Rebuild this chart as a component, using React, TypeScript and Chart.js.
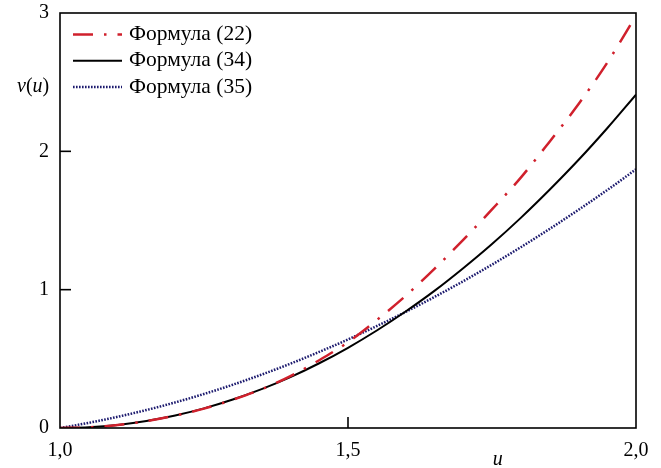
import { useEffect, useRef } from "react";
import { Chart, registerables } from "chart.js";

Chart.register(...registerables);

const uValues = [1.0, 1.05, 1.1, 1.15, 1.2, 1.25, 1.3, 1.35, 1.4, 1.45, 1.5, 1.55, 1.6, 1.65, 1.7, 1.75, 1.8, 1.85, 1.9, 1.95, 2.0];
const formula22 = [0, 0.005, 0.022, 0.05, 0.09, 0.14, 0.205, 0.28, 0.375, 0.49, 0.62, 0.78, 0.955, 1.15, 1.36, 1.58, 1.81, 2.07, 2.34, 2.64, 2.98];
const formula34 = [0, 0.006, 0.0225, 0.051, 0.091, 0.142, 0.206, 0.281, 0.368, 0.468, 0.58, 0.705, 0.842, 0.991, 1.155, 1.33, 1.519, 1.722, 1.937, 2.167, 2.41];
const formula35 = [0, 0.0375, 0.081, 0.13, 0.185, 0.246, 0.313, 0.386, 0.465, 0.55, 0.64, 0.737, 0.839, 0.947, 1.061, 1.181, 1.307, 1.439, 1.577, 1.72, 1.87];

const seriesLabels = ["Формула (22)", "Формула (34)", "Формула (35)"];
const xTickValues = [1.0, 1.5, 2.0];
const xTickLabels = ["1,0", "1,5", "2,0"];
const yTickValues = [0, 1, 2, 3];
const yTickLabels = ["0", "1", "2", "3"];
const xTitle = "u";
const yTitleParts = [
  { t: "v", italic: true },
  { t: "(", italic: false },
  { t: "u", italic: true },
  { t: ")", italic: false },
];

const SERIF = "'Liberation Serif', 'Times New Roman', serif";

const framePlugin = {
  id: "framePlugin",
  afterDraw(chart: any) {
    const { ctx, chartArea } = chart;
    const { left, right, top, bottom } = chartArea;
    ctx.save();
    ctx.strokeStyle = "#000";
    ctx.lineWidth = 1.6;
    ctx.strokeRect(left, top, right - left, bottom - top);
    const tl = 11;
    const xs = chart.scales.x;
    xs.ticks.forEach((t: any) => {
      const px = xs.getPixelForValue(t.value);
      if (Math.abs(px - left) < 1 || Math.abs(px - right) < 1) return;
      ctx.beginPath();
      ctx.moveTo(px, bottom);
      ctx.lineTo(px, bottom - tl);
      ctx.stroke();
    });
    const ys = chart.scales.y;
    ys.ticks.forEach((t: any) => {
      const py = ys.getPixelForValue(t.value);
      if (Math.abs(py - top) < 1 || Math.abs(py - bottom) < 1) return;
      ctx.beginPath();
      ctx.moveTo(left, py);
      ctx.lineTo(left + tl, py);
      ctx.stroke();
    });

    ctx.fillStyle = "#000";
    ctx.textBaseline = "alphabetic";
    ctx.textAlign = "center";
    ctx.font = `italic 20px ${SERIF}`;
    ctx.fillText(xTitle, left + (right - left) * 0.76, chart.height - 3);

    ctx.textAlign = "left";
    ctx.textBaseline = "middle";
    let x = 17;
    const yt = top + 74;
    yTitleParts.forEach((p) => {
      ctx.font = `${p.italic ? "italic " : ""}20px ${SERIF}`;
      ctx.fillText(p.t, x, yt);
      x += ctx.measureText(p.t).width;
    });

    chart.data.datasets.forEach((ds: any, i: number) => {
      const ry = top + 21.5 + i * 26.3;
      ctx.save();
      ctx.strokeStyle = ds.borderColor;
      ctx.lineWidth = ds.borderWidth;
      ctx.setLineDash(ds.borderDash || []);
      ctx.lineCap = "butt";
      ctx.beginPath();
      ctx.moveTo(left + 13, ry);
      ctx.lineTo(left + 62, ry);
      ctx.stroke();
      ctx.restore();
      ctx.fillStyle = "#000";
      ctx.font = `21.5px ${SERIF}`;
      ctx.textAlign = "left";
      ctx.textBaseline = "middle";
      ctx.fillText(ds.label, left + 69, ry);
    });
    ctx.restore();
  },
};

export default function App() {
  const ref = useRef<HTMLCanvasElement>(null);
  useEffect(() => {
    document.body.style.margin = "0";
    const canvas = ref.current;
    if (!canvas) return;
    const mk = (vals: number[]) => uValues.map((u, i) => ({ x: u, y: vals[i] }));
    const chart = new Chart(canvas, {
      type: "line",
      data: {
        datasets: [
          {
            label: seriesLabels[0],
            data: mk(formula22),
            borderColor: "#d0202c",
            borderWidth: 2.5,
            borderDash: [20, 11, 2.5, 11],
            pointRadius: 0,
            cubicInterpolationMode: "monotone",
            fill: false,
          },
          {
            label: seriesLabels[1],
            data: mk(formula34),
            borderColor: "#000000",
            borderWidth: 2,
            pointRadius: 0,
            cubicInterpolationMode: "monotone",
            fill: false,
          },
          {
            label: seriesLabels[2],
            data: mk(formula35),
            borderColor: "#1c1a6e",
            borderWidth: 2.5,
            borderDash: [1.6, 1.4],
            pointRadius: 0,
            cubicInterpolationMode: "monotone",
            fill: false,
          },
        ],
      },
      options: {
        animation: false,
        responsive: false,
        devicePixelRatio: 1,
        layout: { padding: { top: 13, right: 25, left: 0, bottom: 0 } },
        plugins: { legend: { display: false }, tooltip: { enabled: false } },
        scales: {
          x: {
            type: "linear",
            min: 1,
            max: 2,
            grid: { display: false, drawTicks: false },
            border: { display: false },
            afterBuildTicks: (s: any) => {
              s.ticks = xTickValues.map((v) => ({ value: v }));
            },
            afterFit: (s: any) => {
              s.height = 40;
              s.paddingLeft = 0;
              s.paddingRight = 0;
            },
            ticks: {
              padding: 11,
              maxRotation: 0,
              autoSkip: false,
              color: "#000",
              font: { family: SERIF, size: 20 },
              callback: (v: any) => xTickLabels[xTickValues.indexOf(Number(v))] ?? "",
            },
          },
          y: {
            type: "linear",
            min: 0,
            max: 3,
            grid: { display: false, drawTicks: false },
            border: { display: false },
            afterBuildTicks: (s: any) => {
              s.ticks = yTickValues.map((v) => ({ value: v }));
            },
            afterFit: (s: any) => {
              s.width = 60;
              s.paddingTop = 0;
              s.paddingBottom = 0;
            },
            ticks: {
              padding: 11,
              autoSkip: false,
              color: "#000",
              font: { family: SERIF, size: 20 },
              callback: (v: any) => yTickLabels[yTickValues.indexOf(Number(v))] ?? "",
            },
          },
        },
      },
      plugins: [framePlugin],
    } as any);
    return () => chart.destroy();
  }, []);
  return <canvas ref={ref} width={661} height={468} style={{ display: "block", width: 661, height: 468 }} />;
}
